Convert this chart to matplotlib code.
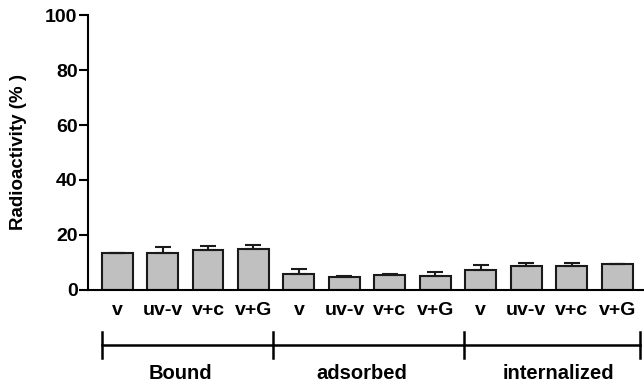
import matplotlib.pyplot as plt
import numpy as np

# Bar labels, values and error bars
conditions = ['v', 'uv-v', 'v+c', 'v+G'] * 3
means = [13.3, 13.6, 14.5, 14.9,
         5.8, 4.8, 5.5, 5.2,
         7.2, 8.8, 8.8, 9.6]
errors = [0.3, 1.9, 1.4, 1.5,
          1.7, 0.2, 0.4, 1.5,
          1.8, 1.1, 1.1, 0.0]
groups = ['Bound', 'adsorbed', 'internalized']

# bracket layout under the x axis (in bar-index units)
group_edges = [-0.34, 3.42, 7.63, 11.5]
group_label_x = [1.39, 5.39, 9.70]

FONT = 'Liberation Sans'

fig = plt.figure(figsize=(6.44, 3.85), dpi=100)
ax = fig.add_axes([0.1366, 0.2468, 0.8634, 0.7142])

x = np.arange(len(means))
# only the upper half of each error bar is drawn
ax.bar(x, means, width=0.68, color='#c0c0c0', edgecolor='#1a1a1a', linewidth=1.5,
       yerr=[np.zeros(len(errors)), errors],
       error_kw=dict(ecolor='#1a1a1a', elinewidth=1.5, capsize=6, capthick=1.5))

ax.set_xlim(-0.64, 11.59)
ax.set_ylim(0, 100)
ax.set_yticks([0, 20, 40, 60, 80, 100])
ax.set_xticks(x)
ax.set_xticklabels(conditions)
for lbl in ax.get_xticklabels() + ax.get_yticklabels():
    lbl.set_fontweight('bold')
    lbl.set_fontsize(14)
    lbl.set_fontfamily(FONT)
ax.tick_params(axis='x', length=0, pad=9)
ax.tick_params(axis='y', length=6.5, width=1.5, pad=1)
ax.set_ylabel('Radioactivity (% )', fontsize=13.5, fontweight='bold', fontfamily=FONT)
ax.yaxis.set_label_coords(-0.11, 0.5)

ax.spines['right'].set_visible(False)
ax.spines['top'].set_visible(False)
ax.spines['left'].set_linewidth(1.5)
ax.spines['bottom'].set_linewidth(1.5)

# Group bracket below the axis
trans = ax.get_xaxis_transform()
ax.plot([group_edges[0], group_edges[-1]], [-0.2, -0.2], color='black', lw=1.8,
        transform=trans, clip_on=False)
for e in group_edges:
    ax.plot([e, e], [-0.153, -0.247], color='black', lw=1.8,
            transform=trans, clip_on=False)
for gx, g in zip(group_label_x, groups):
    ax.text(gx, -0.302, g, transform=trans, ha='center', va='center',
            fontsize=14.5, fontweight='bold', fontfamily=FONT)

fig.savefig('out.png', dpi=100)
